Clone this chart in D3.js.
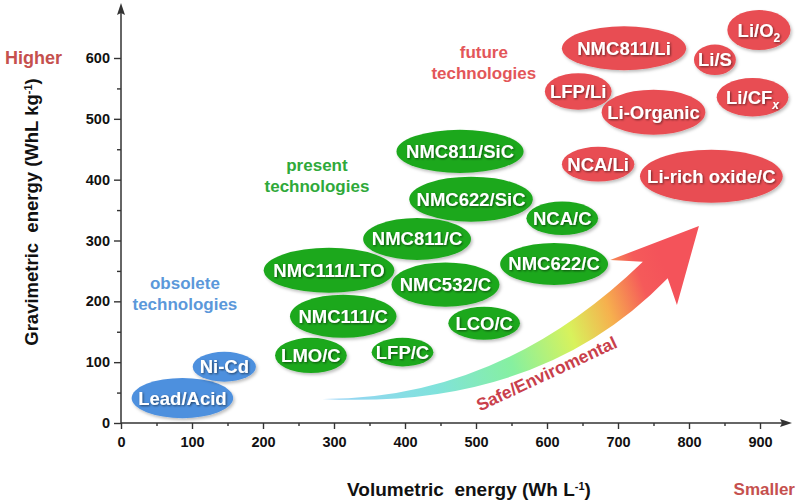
<!DOCTYPE html>
<html>
<head>
<meta charset="utf-8">
<script src="https://cdn.jsdelivr.net/npm/d3@7"></script>
<style>
  body { margin: 0; background: #fff; }
  text { font-family: "Liberation Sans", Arial, sans-serif; font-weight: bold; }
</style>
</head>
<body>
<div id="chart"></div>
<script>
var width = 800;
var height = 502;

// battery chemistries: volumetric range (x) and gravimetric range (y)
var names = ["Lead/Acid", "Ni-Cd",
  "NMC811/SiC", "NMC622/SiC", "NMC811/C", "NMC111/LTO", "NMC532/C", "NMC111/C",
  "LCO/C", "LMO/C", "LFP/C", "NCA/C", "NMC622/C",
  "NMC811/Li", "Li/O2", "Li/S", "LFP/Li", "Li-Organic", "Li/CFx", "NCA/Li", "Li-rich oxide/C"];
var groups = ["obsolete", "obsolete",
  "present", "present", "present", "present", "present", "present",
  "present", "present", "present", "present", "present",
  "future", "future", "future", "future", "future", "future", "future", "future"];
var xLo = [15, 101, 388, 406, 341, 201, 381, 238, 461, 217, 353, 571, 534, 621, 854, 807, 597, 677, 839, 621, 731];
var xHi = [158, 190, 567, 580, 493, 385, 533, 388, 562, 318, 440, 672, 686, 796, 943, 866, 691, 823, 940, 723, 932];
var yLo = [8, 68, 411, 331, 268, 214, 191, 140, 137, 82, 93, 309, 227, 580, 613, 572, 515, 474, 504, 397, 362];
var yHi = [74, 117, 482, 405, 337, 288, 264, 211, 191, 140, 140, 364, 296, 652, 679, 622, 575, 548, 567, 454, 449];

var xMajor = [0, 100, 200, 300, 400, 500, 600, 700, 800, 900];
var xMinor = [50, 150, 250, 350, 450, 550, 650, 750, 850];
var yMajor = [0, 100, 200, 300, 400, 500, 600];
var yMinor = [50, 150, 250, 350, 450, 550];

// group captions
var captions = [
  {group: "obsolete", lines: ["obsolete", "technologies"], x: 90, y: 220},
  {group: "present", lines: ["present", "technologies"], x: 276, y: 415},
  {group: "future", lines: ["future", "technologies"], x: 511, y: 600}
];

// trend arrow in data units
var arrowStart = [283, 39.5];
var arrowTopCtrl = [534, 38];
var arrowNotchL = [735, 265];
var arrowBarbL = [689, 268];
var arrowTip = [814, 324];
var arrowBarbR = [783, 194];
var arrowNotchR = [770, 238];
var arrowBotCtrl = [590, 21];

var fillColor = {obsolete: "#4e90de", present: "#1fa81f", future: "#e84d52"};
var textColor = {obsolete: "#5b98da", present: "#2fa93a", future: "#e35659"};

var x = d3.scaleLinear().domain([0, 900]).range([121, 760]);
var y = d3.scaleLinear().domain([0, 600]).range([423, 58]);

var svg = d3.select("#chart")
  .append("svg")
    .attr("width", width)
    .attr("height", height);

var defs = svg.append("defs");

var sh = defs.append("filter").attr("id", "ellShadow")
  .attr("x", "-20%").attr("y", "-20%").attr("width", "150%").attr("height", "160%");
sh.append("feDropShadow").attr("dx", 1.5).attr("dy", 2).attr("stdDeviation", 1.8)
  .attr("flood-color", "#000").attr("flood-opacity", 0.25);

var tsh = defs.append("filter").attr("id", "txtShadow")
  .attr("x", "-10%").attr("y", "-20%").attr("width", "130%").attr("height", "150%");
tsh.append("feDropShadow").attr("dx", 1).attr("dy", 1).attr("stdDeviation", 0.8)
  .attr("flood-color", "#000").attr("flood-opacity", 0.55);

var grad = defs.append("linearGradient").attr("id", "arrowGrad")
  .attr("gradientUnits", "userSpaceOnUse")
  .attr("x1", x(arrowStart[0])).attr("y1", y(arrowStart[1]))
  .attr("x2", x(arrowNotchR[0])).attr("y2", y(arrowNotchR[1]));
[[0, "#99d3f8"], [0.3, "#80e2dc"], [0.52, "#86f0a0"], [0.7, "#d8f25c"],
 [0.82, "#f6b04e"], [0.93, "#f55a5a"], [1, "#f4535a"]].forEach(function(s) {
  grad.append("stop").attr("offset", s[0]).attr("stop-color", s[1]);
});

// axes
var gx = svg.append("g").attr("transform", "translate(0," + y(0) + ")");
gx.call(d3.axisBottom(x).tickValues(xMajor).tickSize(6).tickPadding(8));
gx.append("g").call(d3.axisBottom(x).tickValues(xMinor).tickSize(3).tickFormat(""));

var gy = svg.append("g").attr("transform", "translate(" + x(0) + ",0)");
gy.call(d3.axisLeft(y).tickValues(yMajor).tickSize(7).tickPadding(4));
gy.append("g").call(d3.axisLeft(y).tickValues(yMinor).tickSize(4).tickFormat(""));

svg.selectAll(".domain").remove();
svg.selectAll(".tick line").attr("stroke", "#333").attr("stroke-width", 1.4);
svg.selectAll(".tick text")
  .style("font-family", "'Liberation Sans', Arial, sans-serif")
  .style("font-weight", "bold")
  .style("font-size", "14.5px")
  .attr("fill", "#111");

svg.append("line")
  .attr("x1", x(0)).attr("y1", y(0)).attr("x2", 786).attr("y2", y(0))
  .attr("stroke", "#333").attr("stroke-width", 1.5);
svg.append("path")
  .attr("d", "M792," + y(0) + "L780," + (y(0) - 4) + "L782," + y(0) + "L780," + (y(0) + 4) + "Z")
  .attr("fill", "#333");
svg.append("line")
  .attr("x1", x(0)).attr("y1", y(0)).attr("x2", x(0)).attr("y2", 10)
  .attr("stroke", "#333").attr("stroke-width", 1.5);
svg.append("path")
  .attr("d", "M" + x(0) + ",3L" + (x(0) - 4) + ",15L" + x(0) + ",13L" + (x(0) + 4) + ",15Z")
  .attr("fill", "#333");

// axis titles
var yt = svg.append("text")
  .attr("transform", "translate(38,212) rotate(-90)")
  .attr("text-anchor", "middle")
  .style("font-size", "18.5px")
  .attr("fill", "#111");
yt.append("tspan").text("Gravimetric\u00a0\u00a0energy (WhL kg");
yt.append("tspan").attr("dy", -6).style("font-size", "11px").text("-1");
yt.append("tspan").attr("dy", 6).text(")");

var xt = svg.append("text")
  .attr("x", 469).attr("y", 496)
  .attr("text-anchor", "middle")
  .style("font-size", "19px")
  .attr("fill", "#111");
xt.append("tspan").text("Volumetric\u00a0\u00a0energy (Wh L");
xt.append("tspan").attr("dy", -6).style("font-size", "11px").text("-1");
xt.append("tspan").attr("dy", 6).text(")");

svg.append("text").attr("x", 5).attr("y", 64)
  .style("font-size", "18px").attr("fill", "#c5504e").text("Higher");
svg.append("text").attr("x", 795).attr("y", 495).attr("text-anchor", "end")
  .style("font-size", "17px").attr("fill", "#c5504e").text("Smaller");

// trend arrow
function P(d) { return x(d[0]) + "," + y(d[1]); }
svg.append("path")
  .attr("d", "M" + P(arrowStart) + "Q" + P(arrowTopCtrl) + " " + P(arrowNotchL) +
    "L" + P(arrowBarbL) + "L" + P(arrowTip) + "L" + P(arrowBarbR) + "L" + P(arrowNotchR) +
    "Q" + P(arrowBotCtrl) + " " + P(arrowStart) + "Z")
  .attr("fill", "url(#arrowGrad)");

svg.append("text")
  .attr("transform", "translate(" + x(603) + "," + y(72) + ") rotate(-25)")
  .attr("text-anchor", "middle")
  .style("font-size", "17.5px")
  .attr("fill", "#c9404b")
  .text("Safe/Enviromental");

// captions
captions.forEach(function(c) {
  var t = svg.append("text")
    .attr("text-anchor", "middle")
    .style("font-size", "17px")
    .attr("fill", textColor[c.group]);
  c.lines.forEach(function(l, i) {
    t.append("tspan").attr("x", x(c.x)).attr("y", y(c.y) + i * 21).text(l);
  });
});

// bubbles
var data = names.map(function(n, i) {
  return {name: n, group: groups[i], x0: xLo[i], x1: xHi[i], y0: yLo[i], y1: yHi[i]};
});

var node = svg.selectAll(".bubble")
  .data(data)
  .enter()
  .append("g")
    .attr("class", "bubble");

node.append("ellipse")
  .attr("cx", function(d) { return (x(d.x0) + x(d.x1)) / 2; })
  .attr("cy", function(d) { return (y(d.y0) + y(d.y1)) / 2; })
  .attr("rx", function(d) { return (x(d.x1) - x(d.x0)) / 2; })
  .attr("ry", function(d) { return (y(d.y0) - y(d.y1)) / 2; })
  .attr("fill", function(d) { return fillColor[d.group]; })
  .attr("filter", "url(#ellShadow)");

var lab = node.append("text")
  .attr("x", function(d) { return (x(d.x0) + x(d.x1)) / 2; })
  .attr("y", function(d) { return (y(d.y0) + y(d.y1)) / 2 + 6.5; })
  .attr("text-anchor", "middle")
  .style("font-size", "18.5px")
  .attr("fill", "#fff")
  .attr("filter", "url(#txtShadow)");

lab.each(function(d) {
  var t = d3.select(this);
  if (d.name == "Li/O2") {
    t.append("tspan").text("Li/O");
    t.append("tspan").attr("dy", 5).style("font-size", "12px").text("2");
  } else if (d.name == "Li/CFx") {
    t.append("tspan").text("Li/CF");
    t.append("tspan").attr("dy", 5).style("font-size", "12px").style("font-style", "italic").text("x");
  } else {
    t.text(d.name);
  }
});
</script>
</body>
</html>
